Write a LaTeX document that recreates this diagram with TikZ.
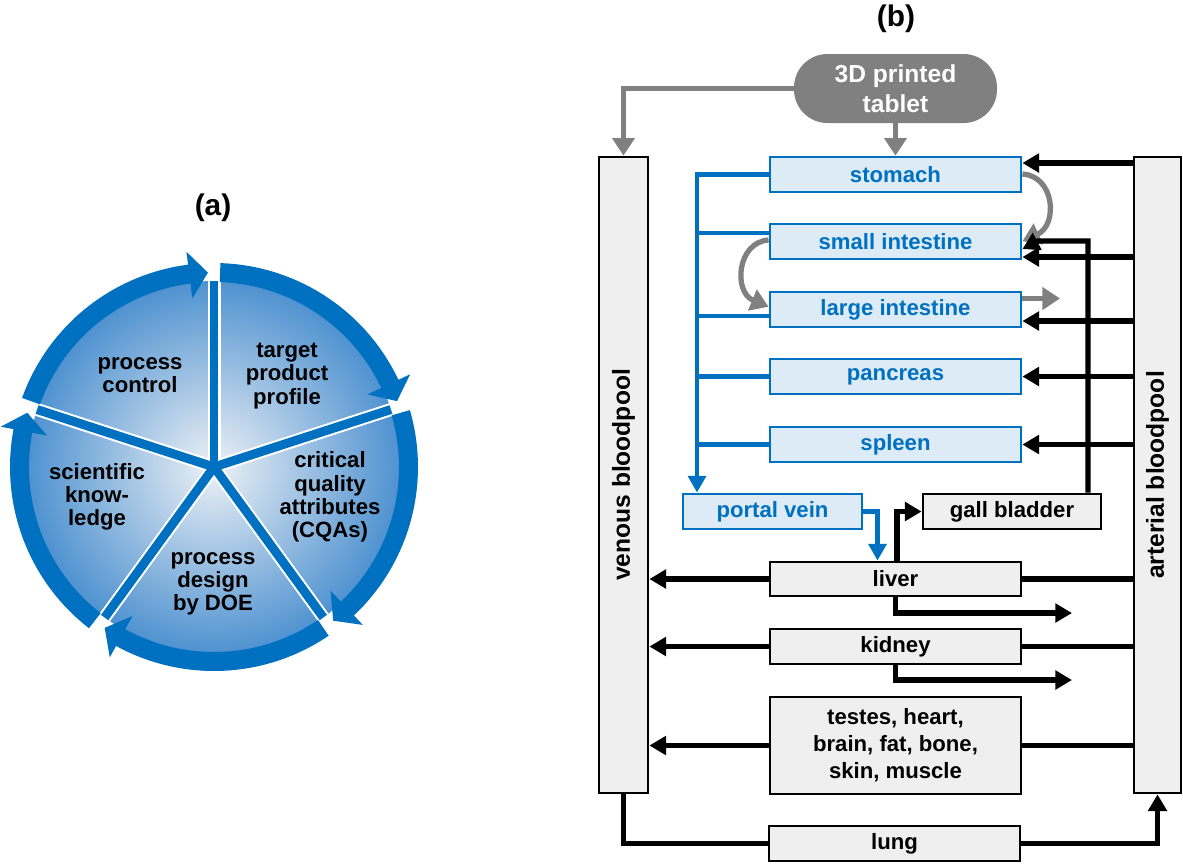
\documentclass[tikz,border=0pt]{standalone}
\usepackage{fontspec}
\setmainfont{Liberation Sans}
\usetikzlibrary{arrows.meta,calc}
\definecolor{myblue}{HTML}{0070C0}
\definecolor{boxblue}{HTML}{DDEBF7}
\definecolor{boxgray}{HTML}{EFEFEF}
\definecolor{arrgray}{HTML}{808080}
\definecolor{pieinner}{HTML}{EDF1F6}
\definecolor{pieouter}{HTML}{4F92D0}
\begin{document}
\begin{tikzpicture}[x=0.02cm,y=-0.02cm,
  sz/.style 2 args={minimum width=#1*0.02cm, minimum height=#2*0.02cm},
  piefont/.style={font=\fontsize{12.6}{13.2}\selectfont\bfseries, align=center},
  organ/.style={draw=myblue, line width=1.6pt, fill=boxblue, text=myblue, inner sep=0pt, font=\fontsize{12.6}{15.3}\selectfont\bfseries, align=center},
  tissue/.style={draw=black, line width=1.6pt, fill=boxgray, text=black, inner sep=0pt, font=\fontsize{12.6}{15.3}\selectfont\bfseries, align=center},
  pool/.style={draw=black, line width=1.6pt, fill=boxgray, inner sep=0pt},
  poollabel/.style={rotate=90, font=\fontsize{14}{16}\selectfont\bfseries},
  tablet/.style={fill=arrgray, text=white, inner sep=0pt, rounded corners=0.67cm, font=\fontsize{14}{17}\selectfont\bfseries, align=center},
  title/.style={font=\fontsize{17}{20}\selectfont\bfseries},
  gline/.style={draw=arrgray, line width=3.2pt, -{Triangle[length=10pt,width=12.5pt]}},
  kline/.style={draw=black, line width=3pt},
  karrow/.style={kline, -{Triangle[length=9.5pt,width=10.5pt]}},
  bline/.style={draw=myblue, line width=2.7pt},
  barrow/.style={bline, -{Triangle[length=9.5pt,width=10pt]}},
  ring/.style={fill=myblue},
  spokew/.style={draw=white, line width=7.4pt},
  spokeb/.style={draw=myblue, line width=5.1pt},
]
\useasboundingbox (0,0) rectangle (1183,863);

% ---------------- (a) ----------------
\node[title] (la) at (213,208) {(a)};
\begin{scope}[shift={(214,467)}, yscale=-1]
  \shade[inner color=pieinner, outer color=pieouter] (0,0) circle[radius=186];
  \foreach \s in {90,18,-54,-126,-198} \draw[spokew] (0,0) -- (\s:186);
  \foreach \s in {90,18,-54,-126,-198} \draw[spokeb] (0,0) -- (\s:186);
  \foreach \sA/\sT in {160.2/91.8, 88.2/19.8, 16.2/-52.2, -55.8/-124.2, -127.8/-196.2}{
    \pgfmathsetmacro\sB{\sT+5.5}
    \fill[ring] plot[domain=\sA:\sB, samples=40, variable=\u] ({204*cos(\u)},{204*sin(\u)})
      -- (\sB:217) -- (\sT:194.5) -- (\sB:170)
      -- plot[domain=\sB:\sA, samples=40, variable=\u] ({185*cos(\u)},{185*sin(\u)}) -- cycle;
  }
\end{scope}
\node[piefont] (pc) at (140,375) {process\\control};
\node[piefont] (tpp) at (287,376) {target\\product\\profile};
\node[piefont] (cqa) at (330,497) {critical\\quality\\attributes\\(CQAs)};
\node[piefont] (pd) at (213,584) {process\\design\\by DOE};
\node[piefont] (sk) at (97,497) {scientific\\know-\\ledge};

% ---------------- (b) ----------------
\node[title] (lb) at (896,19) {(b)};
\node[tablet, sz={203}{69}] (tab) at (895.5,88.5) {3D printed\\tablet};
\node[pool, sz={49}{636}] (ven) at (623.5,475) {};
\node[poollabel] (venl) at (ven.center) {venous bloodpool};
\node[pool, sz={47}{636}] (art) at (1157.5,475) {};
\node[poollabel] (artl) at (art.center) {arterial bloodpool};

\node[organ, sz={251}{35}] (stom) at (895.5,174.5) {stomach};
\node[organ, sz={251}{35}] (si) at (895.5,241.5) {small intestine};
\node[organ, sz={251}{35}] (li) at (895.5,309.5) {large intestine};
\node[organ, sz={251}{35}] (pan) at (895.5,376.5) {pancreas};
\node[organ, sz={251}{35}] (spl) at (895.5,444.5) {spleen};
\node[organ, sz={179}{35}] (pv) at (772.5,511.5) {portal vein};
\node[tissue, sz={178}{35}] (gb) at (1012,511.5) {gall bladder};
\node[tissue, sz={251}{34}] (liv) at (895.5,579) {liver};
\node[tissue, sz={251}{35}] (kid) at (895.5,646.5) {kidney};
\node[tissue, sz={251}{97}] (tes) at (895.5,745.5) {testes, heart,\\brain, fat, bone,\\skin, muscle};
\node[tissue, sz={251}{35}] (lung) at (894.5,843.5) {lung};

% helper coordinates
\coordinate (ys) at (1134,163);
\coordinate (ysi) at (1134,257);
\coordinate (yli) at (1134,321);
\coordinate (gbtop) at (1088,241);
\coordinate (gbturn) at (1038,241);
\coordinate (lgx) at (897,511);
\coordinate (livout) at (1072,613);
\coordinate (kidout) at (1072,680);
\coordinate (bus) at (697,174.5);
\coordinate (bsi) at (697,233);
\coordinate (bli) at (697,316);
\coordinate (pvx) at (877.5,512);
\coordinate (liout) at (1060,298.5);

% gray connectors
\draw[gline] (tab.west) -| (ven.north);
\draw[gline] (tab.south) -- (stom.north);
\draw[gline, line width=3pt] ($(stom.east)+(0,-0.5)$) .. controls (1055,176) and (1058,225) .. ($(si.east)+(0,-0.3)$);
\draw[gline, line width=3pt] ($(si.west)+(0,-1.5)$) .. controls (737,242) and (733,292) .. ($(li.west)+(0,-2.8)$);
\draw[gline] (li.east |- liout) -- (liout);

% blue connectors
\draw[barrow] (stom.west) -| (bus |- pv.north);
\draw[bline] (bsi) -- (si.west |- bsi);
\draw[bline] (bli) -- (li.west |- bli);
\draw[bline] (bus |- pan.west) -- (pan.west);
\draw[bline] (bus |- spl.west) -- (spl.west);
\draw[barrow] (pv.east) -| (liv.north -| pvx);

% black connectors
\draw[karrow] (ys) -- (stom.east |- ys);
\draw[karrow] (gb.north -| gbtop) -- (gbtop) -- (gbturn) -- ($(si.east)+(0,7.5)$);
\draw[karrow] (ysi) -- (si.east |- ysi);
\draw[karrow] (yli) -- (li.east |- yli);
\draw[karrow] (art.west |- pan.east) -- (pan.east);
\draw[karrow] (art.west |- spl.east) -- (spl.east);
\draw[karrow] (liv.north -| lgx) |- (gb.west);
\draw[kline] (art.west |- liv.east) -- (liv.east);
\draw[karrow] (liv.west) -- (ven.east |- liv.west);
\draw[karrow] (liv.south) |- (livout);
\draw[kline] (art.west |- kid.east) -- (kid.east);
\draw[karrow] (kid.west) -- (ven.east |- kid.west);
\draw[karrow] (kid.south) |- (kidout);
\draw[kline] (art.west |- tes.east) -- (tes.east);
\draw[karrow] (tes.west) -- (ven.east |- tes.west);
\draw[kline] (ven.south) |- (lung.west);
\draw[karrow] (lung.east) -| (art.south);
\end{tikzpicture}
\end{document}
